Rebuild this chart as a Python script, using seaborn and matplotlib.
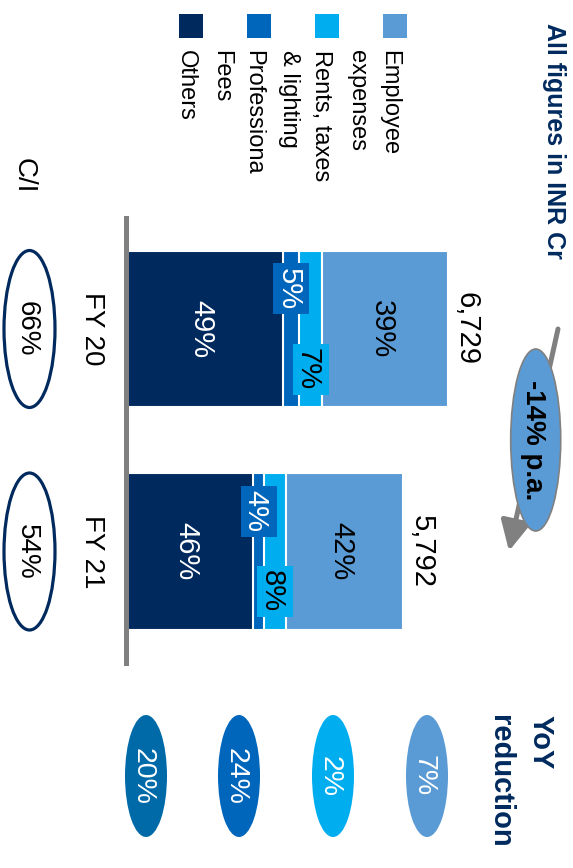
import numpy as np
import pandas as pd
import matplotlib
matplotlib.use("Agg")
import matplotlib.pyplot as plt
import seaborn as sns
from matplotlib.patches import Ellipse, Rectangle

# ---------------- data ----------------
years = ["FY 20", "FY 21"]
total_cost = [6729, 5792]            # INR Cr
others_pct = [49, 46]
professional_pct = [5, 4]
rents_pct = [7, 8]
employee_pct = [39, 42]
cost_income_pct = [66, 54]
legend_labels = ["Employee\nexpenses", "Rents, taxes\n& lighting", "Professiona\nFees", "Others"]
yoy_reduction_pct = [7, 2, 24, 20]   # Employee, Rents, Professional, Others
cagr_label = "-14% p.a."
title_text = "All figures in INR Cr"
yoy_title = "YoY\nreduction"
ci_title = "C/I"

# ---------------- style ----------------
sns.set_theme(style="white")
plt.rcParams["font.family"] = ["Liberation Sans", "DejaVu Sans"]

C_OTH = "#002a5e"
C_PROF = "#0066bb"
C_RENT = "#00aeef"
C_EMP = "#5b9bd5"
C_YOY_OTH = "#006aa8"
NAVY = "#002a5e"
GRAY = "#808080"

W, H = 573, 868
fig = plt.figure(figsize=(W / 100, H / 100), dpi=100)
ax = fig.add_axes([0, 0, 1, 1])

df = pd.DataFrame({"year": years, "total": total_cost,
                   "Others": others_pct, "Prof": professional_pct,
                   "Rents": rents_pct, "Employee": employee_pct})
order = ["Others", "Prof", "Rents", "Employee"]
colors = [C_OTH, C_PROF, C_RENT, C_EMP]
vals = pd.DataFrame({k: df[k] * df["total"] / 100.0 for k in order})
cum = vals.cumsum(axis=1)
starts = cum - vals

for k, c in zip(reversed(order), reversed(colors)):
    sns.barplot(x=cum[k].values, y=df["year"].values, orient="h", color=c,
                width=0.705, edgecolor="white", linewidth=1.5, errorbar=None,
                saturation=1, ax=ax)

# layout of the (rotated) value axis
px_per_unit = 0.04787
x0_px = 125.5
ax.set_xlim(-x0_px / px_per_unit, (W - x0_px) / px_per_unit)
yc0, ystep = 329.0, 222.5
ax.set_ylim((H - yc0) / ystep, -yc0 / ystep)
for s in ["top", "right", "bottom"]:
    ax.spines[s].set_visible(False)
ax.spines["left"].set_position(("data", 0))
ax.spines["left"].set_bounds(-0.5, 1.5)
ax.spines["left"].set_color(GRAY)
ax.spines["left"].set_linewidth(3.6)
ax.spines["left"].set_zorder(5)
ax.set_xticks([])
ax.set_xlabel("")
ax.set_ylabel("")
ax.tick_params(axis="y", length=0, pad=14.8, labelsize=20, labelcolor="black",
               labelrotation=-90)
plt.setp(ax.get_yticklabels(), va="center")

ROT = dict(rotation=-90, rotation_mode="anchor", ha="center", va="center_baseline")

# labels on bars
FS = 21
box_w = 36 / px_per_unit       # box size: 36 px across, 51 px along
box_h = 51 / ystep
for i in range(len(years)):
    mid = (starts.iloc[i] + cum.iloc[i]) / 2
    ax.text(mid["Others"], i, f"{others_pct[i]}%", color="white", fontsize=FS,
            zorder=6, **ROT)
    for key, pct, dy, fc, tc in [("Prof", professional_pct[i], -0.18, C_PROF, "white"),
                                 ("Rents", rents_pct[i], 0.18, C_RENT, "black")]:
        ax.add_patch(Rectangle((mid[key] - box_w / 2, i + dy - box_h / 2),
                               box_w, box_h, fc=fc, ec="none", zorder=5.5))
        ax.text(mid[key], i + dy, f"{pct}%", color=tc, fontsize=FS, zorder=6, **ROT)
    ax.text(mid["Employee"], i, f"{employee_pct[i]}%", color="black",
            fontsize=FS, zorder=6, **ROT)
    ax.annotate(f"{total_cost[i]:,}", xy=(cum.iloc[i]["Employee"], i),
                xytext=(7.6, 0), textcoords="offset points", rotation=-90,
                rotation_mode="anchor", ha="center", va="baseline",
                fontsize=FS, color="black")

# ---------------- pixel overlay for decorations ----------------
px = fig.add_axes([0, 0, 1, 1], facecolor="none")
px.set_xlim(0, W)
px.set_ylim(H, 0)
px.axis("off")

# title
px.text(566, 23, title_text, rotation=-90, ha="right", va="top", fontsize=18,
        fontweight="bold", color=NAVY)

# legend
leg_x = [383, 315, 247, 179]
leg_colors = [C_EMP, C_RENT, C_PROF, C_OTH]
for x, lab, c in zip(leg_x, legend_labels, leg_colors):
    px.add_patch(Rectangle((x, 14), 24, 24, fc=c, ec="none"))
    px.text(x + 24 - 6.5, 50, lab, rotation=-90, ha="right", va="top",
            fontsize=17, color="black", multialignment="left", linespacing=1.6)

# C/I
px.text(27, 176, ci_title, fontsize=20, color="black", **ROT)
for i, v in enumerate(cost_income_pct):
    cy = yc0 + ystep * i
    px.add_patch(Ellipse((29.5, cy), 51, 157, fc="white", ec=NAVY, lw=2.3))
    px.text(29.5, cy, f"{v}%", fontsize=20, color="black", **ROT)

# CAGR arrow
px.annotate("", xy=(509, 551), xytext=(558, 329),
            arrowprops=dict(arrowstyle="-|>,head_length=0.9,head_width=0.45",
                            color=GRAY, lw=3.6, mutation_scale=20,
                            shrinkA=0, shrinkB=0), zorder=2)
px.add_patch(Ellipse((535.7, 440), 50, 182, fc=C_EMP, ec=GRAY, lw=1.2, zorder=3))
px.text(535.7, 440, cagr_label, fontsize=20, fontweight="bold", color="black",
        zorder=4, **ROT)

# YoY reduction
px.text(555, 715, yoy_title, rotation=-90, ha="right", va="top", fontsize=21,
        fontweight="bold", color=NAVY, multialignment="left", linespacing=1.6)
yoy_x = [427, 333, 239, 146]
yoy_colors = [C_EMP, C_RENT, C_PROF, C_YOY_OTH]
for x, v, c in zip(yoy_x, yoy_reduction_pct, yoy_colors):
    px.add_patch(Ellipse((x, 776), 42, 122, fc=c, ec="none"))
    px.text(x, 776, f"{v}%", fontsize=20.5, color="white", **ROT)

fig.savefig("out.png", dpi=100)
